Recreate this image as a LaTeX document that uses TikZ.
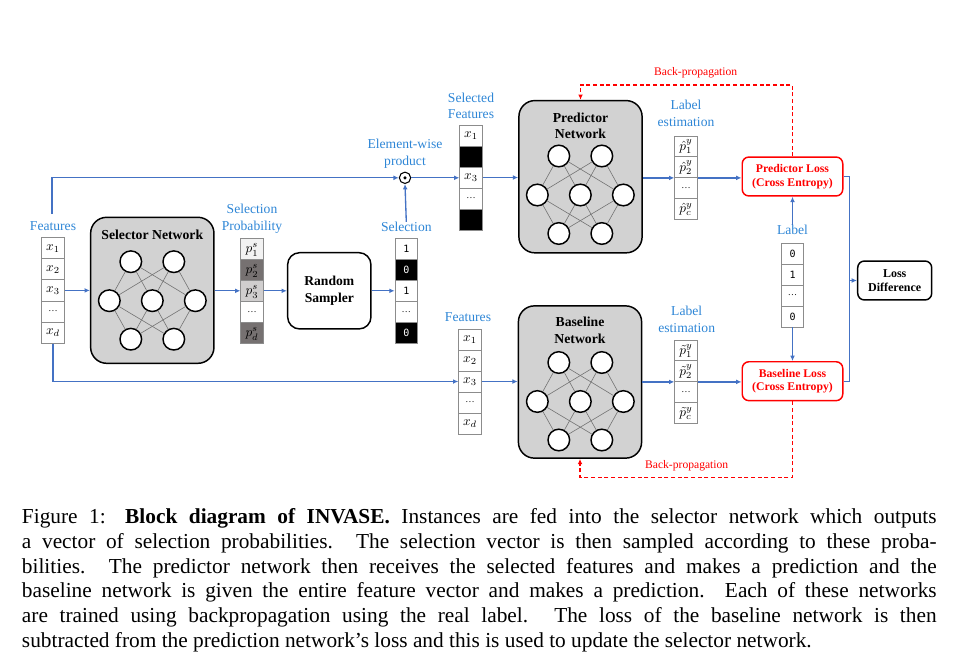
\documentclass[tikz,border=0pt]{standalone}
\usepackage{fontspec}
\setmainfont{Liberation Serif}
\setmonofont{DejaVu Sans Mono}
\usetikzlibrary{arrows.meta}
\definecolor{lineblue}{RGB}{68,114,196}
\definecolor{txtblue}{RGB}{46,134,214}
\definecolor{netgray}{RGB}{210,210,210}
\definecolor{cellgray}{RGB}{140,140,140}
\definecolor{pdark}{RGB}{118,113,113}
\definecolor{plight}{RGB}{242,242,242}
\definecolor{pmid}{RGB}{208,206,206}
\definecolor{lossred}{RGB}{255,0,0}
\newcommand{\netw}[3]{%
  \node[neuron] (#1t1) at (#2-21.5,#3-39) {};
  \node[neuron] (#1t2) at (#2+21.5,#3-39) {};
  \node[neuron] (#1m1) at (#2-43,#3) {};
  \node[neuron] (#1m2) at (#2,#3) {};
  \node[neuron] (#1m3) at (#2+43,#3) {};
  \node[neuron] (#1b1) at (#2-21.5,#3+38.5) {};
  \node[neuron] (#1b2) at (#2+21.5,#3+38.5) {};
  \foreach \a in {t1,t2} \foreach \b in {m1,m2,m3} \draw[conn] (#1\a) -- (#1\b);
  \foreach \a in {m1,m2,m3} \foreach \b in {b1,b2} \draw[conn] (#1\a) -- (#1\b);
}
\newcommand{\pc}[1]{\raisebox{-3pt}[0pt][0pt]{$#1$}}
\begin{document}
\begin{tikzpicture}[x=0.75pt,y=-0.75pt,
  cell/.style={draw=cellgray, line width=0.6pt, minimum width=16.9pt, minimum height=15.8pt, inner sep=0pt, font=\fontsize{10}{10}\selectfont},
  dots/.style={font=\fontsize{7}{7}\selectfont},
  dig/.style={font=\ttfamily\fontsize{7.5}{7.5}\selectfont},
  blk/.style={fill=black, text=white},
  lab/.style={text=txtblue, font=\fontsize{10.2}{12.4}\selectfont, align=center, inner sep=0pt},
  netbox/.style={draw=black, line width=1.1pt, fill=netgray, rounded corners=12pt, minimum width=92.4pt, minimum height=114.2pt, inner sep=0pt},
  title/.style={font=\bfseries\fontsize{10.3}{12.5}\selectfont, align=center, inner sep=0pt},
  neuron/.style={circle, draw=black, line width=1.1pt, fill=white, minimum size=16.2pt, inner sep=0pt},
  conn/.style={draw=black!55, line width=0.45pt},
  lossbox/.style={draw=lossred, line width=1.1pt, rounded corners=5pt, fill=white, minimum width=75.4pt, minimum height=29.2pt, text=lossred, font=\bfseries\fontsize{8.8}{10.3}\selectfont, align=center, inner sep=0pt},
  line/.style={draw=lineblue, line width=1pt},
  arr/.style={line, -{Latex[length=4pt,width=3.6pt]}},
  bp/.style={draw=lossred, line width=1pt, dash pattern=on 3pt off 2pt, -{Latex[length=4pt,width=3.6pt]}},
  bplab/.style={text=lossred, font=\fontsize{8.7}{8.7}\selectfont, inner sep=0pt}
]
\useasboundingbox (0,0) rectangle (962,664);

% ---------- network boxes ----------
\node[netbox, minimum height=109.5pt, minimum width=92.5pt] (selbox) at (152.3,290.3) {};
\node[title] (seltitle) at (152.3,234.3) {Selector Network};
\netw{sel}{152.3}{300.7}

\node[netbox] (predbox) at (580.5,176.7) {};
\node[title] (predtitle) at (580.5,125.7) {Predictor\\Network};
\netw{pred}{580.3}{195}

\node[netbox] (basebox) at (580,382) {};
\node[title] (basetitle) at (580,330) {Baseline\\Network};
\netw{base}{580.3}{401.5}

% ---------- left features ----------
\node[lab] (featlab) at (53,226) {Features};
\node[cell] (fx1) at (53,248.2) {$x_1$};
\node[cell] (fx2) at (53,269.3) {$x_2$};
\node[cell] (fx3) at (53,290.4) {$x_3$};
\node[cell,dots] (fx4) at (53,311.5) {\ldots};
\node[cell] (fx5) at (53,332.6) {$x_d$};

% ---------- selection probability ----------
\node[lab] (splab) at (252,219) {Selection\\Probability};
\node[cell,fill=plight] (sp1) at (252,248.8) {\pc{p_1^s}};
\node[cell,fill=pdark] (sp2) at (252,269.8) {\pc{p_2^s}};
\node[cell,fill=pmid] (sp3) at (252,290.8) {\pc{p_3^s}};
\node[cell,dots] (sp4) at (252,311.8) {\ldots};
\node[cell,fill=pdark] (sp5) at (252,332.8) {\pc{p_d^s}};

% ---------- random sampler ----------
\node[draw=black, line width=1.1pt, rounded corners=9pt, minimum width=62.5pt, minimum height=57.2pt, fill=white, font=\bfseries\fontsize{10.2}{13}\selectfont, align=center, inner sep=0pt] (sampler) at (329.3,290.8) {Random\\Sampler};

% ---------- selection ----------
\node[lab] (sellab) at (406.3,227) {Selection};
\node[cell,dig] (s1) at (406.3,248.8) {1};
\node[cell,dig,blk] (s2) at (406.3,269.8) {0};
\node[cell,dig] (s3) at (406.3,290.8) {1};
\node[cell,dots] (s4) at (406.3,311.8) {\ldots};
\node[cell,dig,blk] (s5) at (406.3,332.8) {0};

% ---------- element-wise product ----------
\node[lab] (ewlab) at (405,153.5) {Element-wise\\product};
\node[circle, draw=black, line width=0.8pt, minimum size=8.5pt, inner sep=0pt] (odot) at (405,177.8) {};
\fill (odot.center) circle (1.3pt);

% ---------- selected features ----------
\node[lab] (sflab) at (471,105.7) {Selected\\Features};
\node[cell] (sf1) at (471,135.5) {$x_1$};
\node[cell,blk] (sf2) at (471,156.5) {};
\node[cell] (sf3) at (471,177.5) {$x_3$};
\node[cell,dots] (sf4) at (471,198.5) {\ldots};
\node[cell,blk] (sf5) at (471,219.5) {};

% ---------- baseline features ----------
\node[lab] (bflab) at (468,317.3) {Features};
\node[cell] (bf1) at (470,339.5) {$x_1$};
\node[cell] (bf2) at (470,360.5) {$x_2$};
\node[cell] (bf3) at (470,381.5) {$x_3$};
\node[cell,dots] (bf4) at (470,402.5) {\ldots};
\node[cell] (bf5) at (470,423.5) {$x_d$};

% ---------- label estimations ----------
\node[lab] (lelab) at (686,113.4) {Label\\estimation};
\node[cell,minimum height=15.6pt] (le1) at (686,146.4) {\pc{\hat{p}_1^y}};
\node[cell,minimum height=15.6pt] (le2) at (686,167.1) {\pc{\hat{p}_2^y}};
\node[cell,minimum height=15.6pt,dots] (le3) at (686,187.8) {\ldots};
\node[cell,minimum height=15.6pt] (le4) at (686,208.5) {\pc{\hat{p}_c^y}};

\node[lab] (lblab) at (686.7,319.4) {Label\\estimation};
\node[cell,minimum height=15.6pt] (lb1) at (686,350.4) {\pc{\tilde{p}_1^y}};
\node[cell,minimum height=15.6pt] (lb2) at (686,371.1) {\pc{\tilde{p}_2^y}};
\node[cell,minimum height=15.6pt,dots] (lb3) at (686,391.8) {\ldots};
\node[cell,minimum height=15.6pt] (lb4) at (686,412.5) {\pc{\tilde{p}_c^y}};

% ---------- losses ----------
\node[lossbox] (predloss) at (792.5,176.5) {Predictor Loss\\(Cross Entropy)};
\node[lossbox] (baseloss) at (792.5,381.2) {Baseline Loss\\(Cross Entropy)};
\node[draw=black, line width=1.1pt, rounded corners=5pt, minimum width=55.5pt, minimum height=29.2pt, font=\bfseries\fontsize{9}{10.8}\selectfont, align=center, inner sep=0pt] (lossdiff) at (894.7,280.5) {Loss\\Difference};

% ---------- label vector ----------
\node[lab] (lablab) at (792.5,230) {Label};
\node[cell,dig] (lv1) at (792.5,253.5) {0};
\node[cell,dig] (lv2) at (792.5,274.5) {1};
\node[cell,dots] (lv3) at (792.5,295.5) {\ldots};
\node[cell,dig] (lv4) at (792.5,316.5) {0};

% ---------- blue connectors ----------
\draw[arr] (fx3.east) -- (fx3.east -| selbox.west);
\draw[arr] (sp3.west -| selbox.east) -- (sp3.west);
\draw[arr] (sp3.east) -- (sp3.east -| sampler.west);
\draw[arr] (s3.west -| sampler.east) -- (s3.west);
\draw[arr] (sellab.north) -- (odot.south);
\coordinate (topstart) at (52,214);
\draw[arr] (topstart) |- (odot.west);
\draw[arr] (odot.east) -- (odot.east -| sf3.west);
\draw[arr] (sf3.east) -- (sf3.east -| predbox.west);
\draw[arr] (le2.south west -| predbox.east) -- (le2.south west);
\draw[arr] (le2.south east) -- (le2.south east -| predloss.west);
\draw[arr] (lablab.north) -- (predloss.south);
\draw[arr] (lv4.south) -- (baseloss.north);
\coordinate (join) at (849.3,280.5);
\draw[line] (predloss.east) -| (join);
\draw[line] (baseloss.east) -| (join);
\draw[arr] (join) -- (lossdiff.west);
\draw[arr] (fx5.south) |- (bf3.west);
\draw[arr] (bf3.east) -- (bf3.east -| basebox.west);
\draw[arr] (lb2.south west -| basebox.east) -- (lb2.south west);
\draw[arr] (lb2.south east) -- (lb2.south east -| baseloss.west);

% ---------- back-propagation ----------
\coordinate (bptop) at (686,85);
\draw[bp] (predloss.north) |- (bptop) -| (predbox.north);
\node[bplab] (bptoplab) at (695.7,72.3) {Back-propagation};
\coordinate (bpbot) at (686,477.3);
\draw[bp] (baseloss.south) |- (bpbot) -| (basebox.south);
\node[bplab] (bpbotlab) at (686.7,466) {Back-propagation};

% ---------- caption ----------
\node[anchor=base west, inner sep=0pt, font=\fontsize{16}{18.6}\selectfont] (caption) at (21.7,523.5) {\parbox[t]{686pt}{%
\makebox[686pt][s]{Figure 1: \textbf{Block diagram of INVASE.} Instances are fed into the selector network which outputs}\\
\makebox[686pt][s]{a vector of selection probabilities. The selection vector is then sampled according to these proba-}\\
\makebox[686pt][s]{bilities. The predictor network then receives the selected features and makes a prediction and the}\\
\makebox[686pt][s]{baseline network is given the entire feature vector and makes a prediction. Each of these networks}\\
\makebox[686pt][s]{are trained using backpropagation using the real label. The loss of the baseline network is then}\\
subtracted from the prediction network's loss and this is used to update the selector network.}};
\end{tikzpicture}
\end{document}
